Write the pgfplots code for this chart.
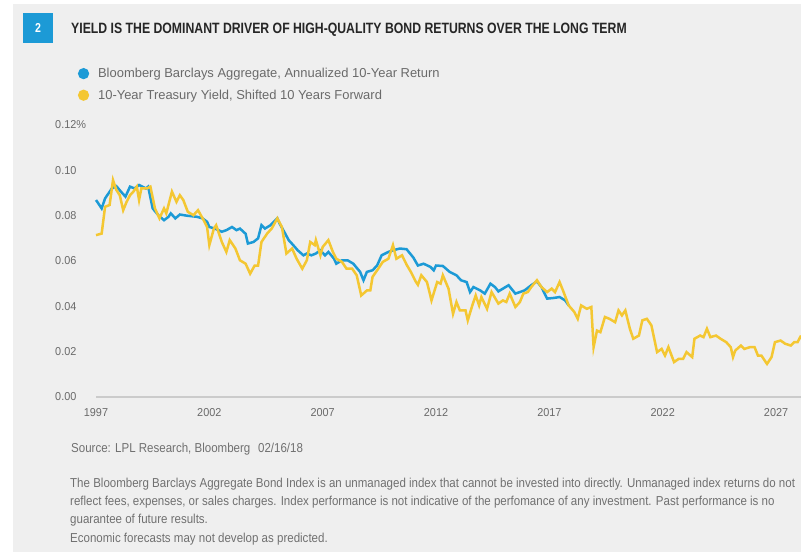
\documentclass[border=0pt]{standalone}
\usepackage{pgfplots}
\pgfplotsset{compat=1.18}
\usepackage{fontspec}
\setmainfont{Liberation Sans}
\newfontfamily\titlefont{Liberation Sans}[FakeStretch=0.82]
\newfontfamily\notefont{Liberation Sans}[FakeStretch=0.89]
\newfontfamily\tickfont{Liberation Sans}[FakeStretch=0.95]
\definecolor{lplblue}{HTML}{1C9AD6}
\definecolor{lplyellow}{HTML}{F4C732}
\definecolor{panel}{HTML}{EFEFEF}
\definecolor{labelgray}{HTML}{6A6A6A}
\definecolor{notegray}{HTML}{707070}
\definecolor{axisgray}{HTML}{CBCBCB}

\begin{document}
\begin{tikzpicture}[x=1bp,y=1bp]
\useasboundingbox (0,0) rectangle (801,552);
\fill[white] (0,0) rectangle (801,552);
\fill[panel] (13,0) rectangle (801,548);
% badge and title
\fill[lplblue] (23,509) rectangle (53,539);
\node[text=white,font=\titlefont\bfseries\fontsize{13}{13}\selectfont] at (38,524) {2};
\node[anchor=west,inner sep=0,text=black!85,font=\titlefont\bfseries\fontsize{15}{15}\selectfont] at (71,522)
  {YIELD IS THE DOMINANT DRIVER OF HIGH-QUALITY BOND RETURNS OVER THE LONG TERM};

\begin{axis}[
  at={(96bp,155bp)}, anchor=south west,
  scale only axis, width=705bp, height=272bp,
  xmin=1997, xmax=2028.1, ymin=0, ymax=0.12,
  axis x line*=bottom, axis y line*=left,
  x axis line style={axisgray,line width=1.6bp,-},
  y axis line style={draw=none},
  tick style={draw=none}, major tick length=0pt,
  xtick={1997,2002,2007,2012,2017,2022,2027},
  xticklabels={1997,2002,2007,2012,2017,2022,2027},
  ytick={0,0.02,0.04,0.06,0.08,0.1,0.12},
  yticklabels={0.00,0.02,0.04,0.06,0.08,0.10,0.12\%},
  xticklabel style={font=\tickfont\fontsize{11.5}{11.5}\selectfont,text=labelgray,inner sep=0pt,anchor=north,yshift=-11bp},
  yticklabel style={font=\tickfont\fontsize{11.5}{11.5}\selectfont,text=labelgray,inner sep=0pt,anchor=west,xshift=-41bp},
  clip=false,
  legend image code/.code={\fill[#1] (0bp,0bp) circle (4.3bp);},
  legend style={at={(axis description cs:-0.0258,1.210)},anchor=north west,draw=none,fill=none,
    font=\fontsize{13}{13}\selectfont,text=labelgray,inner sep=0pt,row sep=10.5bp,column sep=9bp,
    nodes={inner sep=0pt,anchor=west,text height=8.5bp,text depth=0bp}},
]
\addplot[lplblue,line width=2.5bp,no markers] coordinates {
(1997.0,0.0869) (1997.25,0.0832) (1997.4,0.0876) (1997.7,0.0920) (1997.9,0.0930)
(1998.1,0.0906) (1998.3,0.0884) (1998.5,0.0928) (1998.7,0.0920) (1998.9,0.0935)
(1999.2,0.0920) (1999.3,0.0928) (1999.5,0.0832) (1999.75,0.0802) (2000.0,0.0780)
(2000.2,0.0795) (2000.3,0.0810) (2000.5,0.0788) (2000.7,0.0805) (2001.0,0.0800)
(2001.45,0.0795) (2001.7,0.0788) (2001.9,0.0773) (2002.0,0.0750) (2002.25,0.0743)
(2002.55,0.0729) (2002.75,0.0736) (2003.0,0.0750) (2003.2,0.0736) (2003.35,0.0743)
(2003.6,0.0720) (2003.7,0.0677) (2003.95,0.0684) (2004.15,0.0700) (2004.3,0.0758)
(2004.45,0.0743) (2004.7,0.0758) (2005.0,0.0788) (2005.1,0.0765) (2005.35,0.0720)
(2005.5,0.0692) (2005.7,0.0670) (2005.9,0.0647) (2006.15,0.0625) (2006.3,0.0633)
(2006.5,0.0625) (2006.7,0.0633) (2006.9,0.0647) (2007.1,0.0625) (2007.25,0.0640)
(2007.5,0.0610) (2007.6,0.0588) (2007.85,0.0603) (2008.1,0.0603) (2008.35,0.0588)
(2008.65,0.0552) (2008.8,0.0515) (2008.95,0.0552) (2009.2,0.0559) (2009.4,0.0580)
(2009.6,0.0625) (2009.9,0.0640) (2010.1,0.0647) (2010.4,0.0655) (2010.7,0.0652)
(2011.0,0.0615) (2011.2,0.0580) (2011.45,0.0588) (2011.75,0.0574) (2011.9,0.0559)
(2012.0,0.0580) (2012.3,0.0578) (2012.6,0.0552) (2012.9,0.0537) (2013.1,0.0515)
(2013.35,0.0507) (2013.5,0.0463) (2013.65,0.0485) (2013.95,0.0470) (2014.15,0.0456)
(2014.4,0.0500) (2014.6,0.0485) (2014.75,0.0466) (2014.95,0.0478) (2015.2,0.0493)
(2015.5,0.0456) (2015.7,0.0463) (2015.9,0.0470) (2016.2,0.0493) (2016.45,0.0510)
(2016.65,0.0485) (2016.9,0.0434) (2017.2,0.0437) (2017.45,0.0441) (2017.7,0.0426)
(2017.85,0.0404)
};
\addlegendentry{Bloomberg Barclays Aggregate, Annualized 10-Year Return}
\addplot[lplyellow,line width=2.5bp,no markers] coordinates {
(1997.0,0.0714) (1997.25,0.0721) (1997.4,0.0839) (1997.6,0.0847) (1997.75,0.0957)
(1997.9,0.0913) (1998.05,0.0890) (1998.2,0.0824) (1998.35,0.0861) (1998.5,0.0890)
(1998.65,0.0906) (1998.8,0.0928) (1998.9,0.0869) (1999.0,0.0920) (1999.25,0.0920)
(1999.4,0.0928) (1999.6,0.0832) (1999.8,0.0788) (2000.0,0.0832) (2000.1,0.0810)
(2000.35,0.0906) (2000.55,0.0861) (2000.7,0.0890) (2000.85,0.0869) (2001.05,0.0817)
(2001.3,0.0802) (2001.5,0.0824) (2001.75,0.0780) (2001.9,0.0750) (2002.0,0.0670)
(2002.2,0.0743) (2002.3,0.0758) (2002.55,0.0684) (2002.75,0.0640) (2002.9,0.0692)
(2003.15,0.0655) (2003.35,0.0603) (2003.6,0.0588) (2003.8,0.0544) (2004.0,0.0580)
(2004.15,0.0580) (2004.3,0.0684) (2004.55,0.0721) (2004.75,0.0743) (2005.0,0.0788)
(2005.2,0.0750) (2005.4,0.0633) (2005.65,0.0655) (2005.85,0.0610) (2006.1,0.0566)
(2006.3,0.0603) (2006.45,0.0684) (2006.65,0.0670) (2006.7,0.0692) (2006.9,0.0625)
(2007.0,0.0662) (2007.25,0.0692) (2007.45,0.0640) (2007.6,0.0610) (2007.85,0.0596)
(2008.05,0.0566) (2008.3,0.0566) (2008.5,0.0537) (2008.7,0.0448) (2008.95,0.0470)
(2009.1,0.0470) (2009.2,0.0530) (2009.45,0.0566) (2009.65,0.0596) (2009.9,0.0610)
(2010.1,0.0670) (2010.25,0.0610) (2010.5,0.0625) (2010.7,0.0584) (2010.9,0.0550)
(2011.1,0.0510) (2011.2,0.0495) (2011.35,0.0537) (2011.6,0.0507) (2011.8,0.0426)
(2012.05,0.0507) (2012.2,0.0500) (2012.3,0.0537) (2012.55,0.0478) (2012.75,0.0367)
(2012.9,0.0419) (2013.05,0.0382) (2013.3,0.0382) (2013.4,0.0338) (2013.6,0.0404)
(2013.75,0.0448) (2013.9,0.0404) (2014.0,0.0441) (2014.25,0.0389) (2014.45,0.0463)
(2014.75,0.0412) (2014.95,0.0426) (2015.1,0.0419) (2015.25,0.0456) (2015.5,0.0397)
(2015.7,0.0419) (2015.85,0.0456) (2016.05,0.0463) (2016.2,0.0485) (2016.45,0.0515)
(2016.65,0.0485) (2016.9,0.0463) (2017.1,0.0478) (2017.25,0.0463) (2017.45,0.0507)
(2017.6,0.0470) (2017.85,0.0404) (2018.1,0.0375) (2018.25,0.0345) (2018.4,0.0404)
(2018.65,0.0389) (2018.85,0.0397) (2018.95,0.0220) (2019.1,0.0293) (2019.25,0.0286)
(2019.45,0.0353) (2019.65,0.0345) (2019.9,0.0330) (2020.05,0.0382) (2020.2,0.0360)
(2020.35,0.0382) (2020.55,0.0301) (2020.7,0.0257) (2020.95,0.0271) (2021.1,0.0338)
(2021.3,0.0345) (2021.5,0.0316) (2021.75,0.0198) (2021.95,0.0212) (2022.1,0.0183)
(2022.25,0.0220) (2022.5,0.0154) (2022.7,0.0168) (2022.9,0.0168) (2023.05,0.0198)
(2023.3,0.0176) (2023.4,0.0257) (2023.65,0.0271) (2023.8,0.0264) (2023.95,0.0301)
(2024.1,0.0264) (2024.35,0.0271) (2024.55,0.0257) (2024.8,0.0242) (2025.0,0.0220)
(2025.1,0.0176) (2025.2,0.0205) (2025.45,0.0227) (2025.6,0.0212) (2025.85,0.0220)
(2026.05,0.0220) (2026.2,0.0183) (2026.35,0.0183) (2026.6,0.0146) (2026.8,0.0176)
(2026.95,0.0242) (2027.2,0.0249) (2027.4,0.0235) (2027.65,0.0227) (2027.8,0.0242)
(2027.95,0.0242) (2028.1,0.0271)
};
\addlegendentry{10-Year Treasury Yield, Shifted 10 Years Forward}
\end{axis}

% notes
\begin{scope}[every node/.style={anchor=west,inner sep=0,text=notegray,font=\notefont\fontsize{13}{13}\selectfont}]
\node at (71,103) {Source: LPL Research, Bloomberg\hspace{0.6em}02/16/18};
\node at (70,68) {The Bloomberg Barclays Aggregate Bond Index is an unmanaged index that cannot be invested into directly. Unmanaged index returns do not};
\node at (70,50) {reflect fees, expenses, or sales charges. Index performance is not indicative of the perfomance of any investment. Past performance is no};
\node at (70,32) {guarantee of future results.};
\node at (70,13) {Economic forecasts may not develop as predicted.};
\end{scope}
\end{tikzpicture}
\end{document}
